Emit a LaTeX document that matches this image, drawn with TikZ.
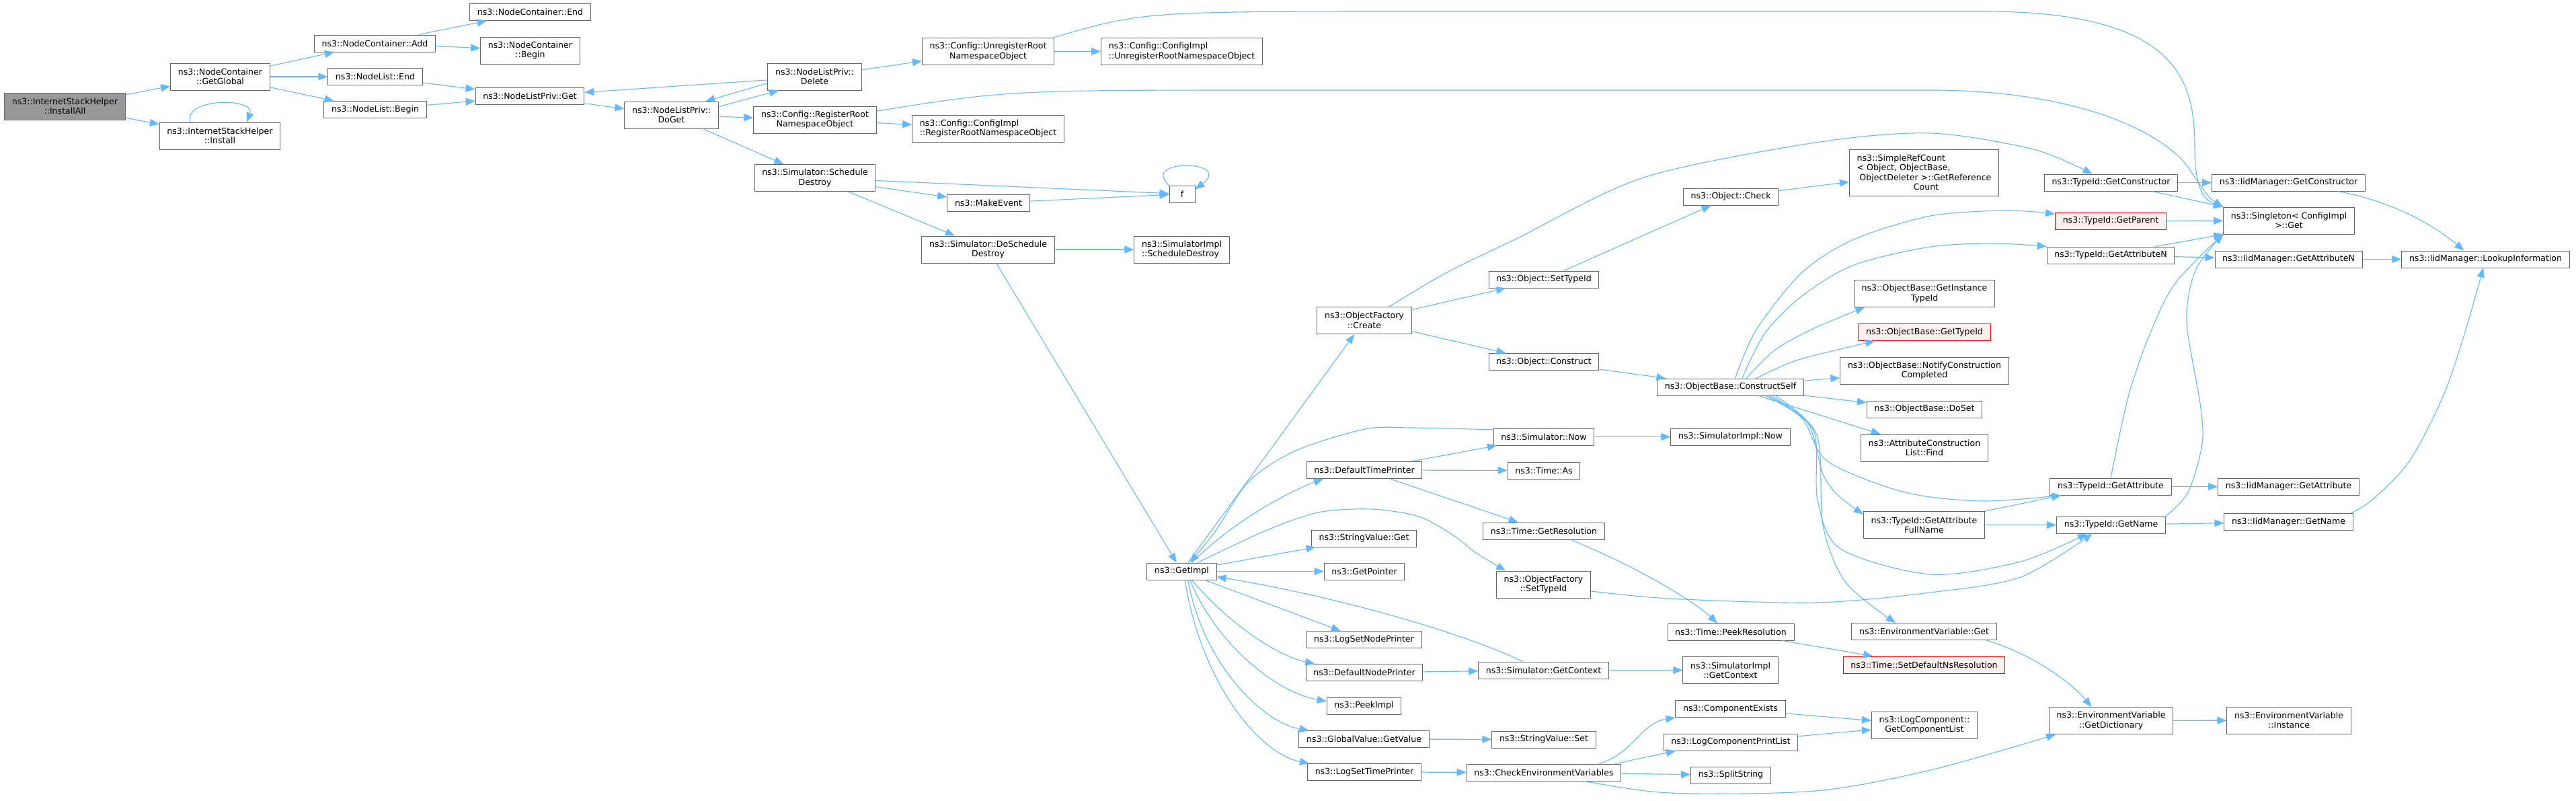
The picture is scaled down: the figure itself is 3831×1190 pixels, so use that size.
\documentclass[tikz,border=0pt]{standalone}
\usepackage{fontspec}
\setmainfont{DejaVu Sans}
\usetikzlibrary{arrows.meta}
\definecolor{edgeblue}{HTML}{63B8FF}
\definecolor{nodeline}{HTML}{666666}
\definecolor{mainfill}{HTML}{999999}
\definecolor{redfill}{HTML}{FFF0F0}
\begin{document}
\begin{tikzpicture}[x=0.5pt,y=-0.5pt,
    fn/.style={draw=nodeline,line width=0.5pt,fill=white,inner xsep=5.6pt,inner ysep=1pt,minimum height=12.5pt,align=center,font=\fontsize{6.28}{7.2}\selectfont},
    fntwo/.style={fn,minimum height=20pt},
    fnmain/.style={fntwo,fill=mainfill},
    fnred/.style={fn,draw=red,fill=redfill},
    edge/.style={draw=edgeblue,line width=0.55pt,-{Triangle[length=7pt,width=5.5pt]}}]
\useasboundingbox (0,0) rectangle (3831,1190);
\node[fnmain] (installall) at (96.5,158) {ns3::InternetStackHelper\\::InstallAll};
\node[fntwo] (getglobal) at (327.5,114) {ns3::NodeContainer\\::GetGlobal};
\node[fntwo] (install) at (327,202) {ns3::InternetStackHelper\\::Install};
\node[fn] (ncadd) at (557.5,64.5) {ns3::NodeContainer::Add};
\node[fn] (nlend) at (558,114) {ns3::NodeList::End};
\node[fn] (nlbegin) at (558,163) {ns3::NodeList::Begin};
\node[fn] (ncend) at (788.5,18) {ns3::NodeContainer::End};
\node[fntwo] (ncbegin) at (788.5,75) {ns3::NodeContainer\\::Begin};
\node[fn] (nlpget) at (788,143) {ns3::NodeListPriv::Get};
\node[fntwo] (doget) at (998.5,171) {ns3::NodeListPriv::\\DoGet};
\node[fntwo] (nlpdelete) at (1211.5,114) {ns3::NodeListPriv::\\Delete};
\node[fntwo] (unreg) at (1469.5,76.5) {ns3::Config::UnregisterRoot\\NamespaceObject};
\node[fntwo,align=left] (cfgunreg) at (1757.5,76.5) {ns3::Config::ConfigImpl\\::UnregisterRootNamespaceObject};
\node[fntwo] (reg) at (1212,178) {ns3::Config::RegisterRoot\\NamespaceObject};
\node[fntwo,align=left] (cfgreg) at (1469.5,191) {ns3::Config::ConfigImpl\\::RegisterRootNamespaceObject};
\node[fntwo] (schedd) at (1212,264.5) {ns3::Simulator::Schedule\\Destroy};
\node[fn] (makeevent) at (1470,302) {ns3::MakeEvent};
\node[fn,minimum width=19pt] (f) at (1758,288.5) {f};
\node[fntwo] (doschedd) at (1469.5,371) {ns3::Simulator::DoSchedule\\Destroy};
\node[fntwo,align=left] (simschedd) at (1757.5,371) {ns3::SimulatorImpl\\::ScheduleDestroy};
\node[fntwo] (create) at (2029,476.5) {ns3::ObjectFactory\\::Create};
\node[fn] (getimpl) at (1757.5,849.5) {ns3::GetImpl};
\node[fn] (deftime) at (2029,699) {ns3::DefaultTimePrinter};
\node[fn] (svget) at (2028.5,800.5) {ns3::StringValue::Get};
\node[fn] (getpointer) at (2029,849.5) {ns3::GetPointer};
\node[fn] (logsetnode) at (2028.5,951) {ns3::LogSetNodePrinter};
\node[fn] (defnode) at (2029,1000) {ns3::DefaultNodePrinter};
\node[fn] (peekimpl) at (2028.5,1049.5) {ns3::PeekImpl};
\node[fn] (gvgetvalue) at (2028.5,1099) {ns3::GlobalValue::GetValue};
\node[fn] (logsettime) at (2029,1148) {ns3::LogSetTimePrinter};
\node[fn] (objcheck) at (2574,292.5) {ns3::Object::Check};
\node[fn] (objsettypeid) at (2296,415.5) {ns3::Object::SetTypeId};
\node[fn] (objconstruct) at (2296,538) {ns3::Object::Construct};
\node[fn] (constructself) at (2573.5,575.5) {ns3::ObjectBase::ConstructSelf};
\node[fn] (simnow) at (2296,649.5) {ns3::Simulator::Now};
\node[fn] (simimplnow) at (2573.5,649.5) {ns3::SimulatorImpl::Now};
\node[fn] (timeas) at (2296,699.5) {ns3::Time::As};
\node[fn] (getres) at (2296,789.5) {ns3::Time::GetResolution};
\node[fntwo] (ofsettypeid) at (2295.5,869) {ns3::ObjectFactory\\::SetTypeId};
\node[fn] (peekres) at (2574,939.5) {ns3::Time::PeekResolution};
\node[fn] (simgetctx) at (2295.5,996.5) {ns3::Simulator::GetContext};
\node[fntwo] (simimplctx) at (2573.5,996.5) {ns3::SimulatorImpl\\::GetContext};
\node[fn] (compexists) at (2573.5,1054) {ns3::ComponentExists};
\node[fn] (logcompprint) at (2574,1103.5) {ns3::LogComponentPrintList};
\node[fn] (svset) at (2296,1099.5) {ns3::StringValue::Set};
\node[fn] (checkenv) at (2296,1148.5) {ns3::CheckEnvironmentVariables};
\node[fn] (splitstring) at (2574,1152.5) {ns3::SplitString};
\node[fn,align=left,minimum height=34.5pt] (simplerefcount) at (2861.5,256.5) {ns3::SimpleRefCount\\< Object, ObjectBase,\\\hspace*{0.3em}ObjectDeleter >::GetReference\\\hspace*{6.7em}Count};
\node[fn] (getconstructor) at (3139.5,271.5) {ns3::TypeId::GetConstructor};
\node[fnred] (getparent) at (3139,328.5) {ns3::TypeId::GetParent};
\node[fn] (getattributen) at (3139,379.5) {ns3::TypeId::GetAttributeN};
\node[fntwo] (gitid) at (2862,436.5) {ns3::ObjectBase::GetInstance\\TypeId};
\node[fnred] (obgettypeid) at (2862,494) {ns3::ObjectBase::GetTypeId};
\node[fntwo] (notifyconstr) at (2862,551) {ns3::ObjectBase::NotifyConstruction\\Completed};
\node[fn] (doset) at (2862,608.5) {ns3::ObjectBase::DoSet};
\node[fntwo] (attrfind) at (2862,666) {ns3::AttributeConstruction\\List::Find};
\node[fn] (getattribute) at (3139,723.5) {ns3::TypeId::GetAttribute};
\node[fntwo] (getattrfull) at (2861.5,780.5) {ns3::TypeId::GetAttribute\\FullName};
\node[fn] (getname) at (3139.5,780.5) {ns3::TypeId::GetName};
\node[fn] (envget) at (2861.5,939) {ns3::EnvironmentVariable::Get};
\node[fnred] (setdefns) at (2861.5,988.5) {ns3::Time::SetDefaultNsResolution};
\node[fntwo] (getcomplist) at (2862,1078) {ns3::LogComponent::\\GetComponentList};
\node[fntwo] (getdict) at (3139.5,1071.5) {ns3::EnvironmentVariable\\::GetDictionary};
\node[fn] (iidgetconstr) at (3403.5,271.5) {ns3::IidManager::GetConstructor};
\node[fntwo] (singleton) at (3404,328) {ns3::Singleton< ConfigImpl\\>::Get};
\node[fn] (iidgetattrn) at (3403.5,385.5) {ns3::IidManager::GetAttributeN};
\node[fn] (lookup) at (3696.5,385.5) {ns3::IidManager::LookupInformation};
\node[fn] (iidgetattr) at (3403.5,723.5) {ns3::IidManager::GetAttribute};
\node[fn] (iidgetname) at (3403.5,776) {ns3::IidManager::GetName};
\node[fntwo] (instance) at (3404,1071) {ns3::EnvironmentVariable\\::Instance};
\foreach \a/\b in {installall/getglobal, installall/install, getglobal/ncadd, getglobal/nlend, getglobal/nlbegin,
    ncadd/ncend, ncadd/ncbegin, nlend/nlpget, nlbegin/nlpget, nlpget/doget, nlpdelete/unreg, unreg/cfgunreg,
    doget/reg, reg/cfgreg, doget/schedd, schedd/makeevent, schedd/f, makeevent/f, schedd/doschedd,
    doschedd/simschedd, doschedd/getimpl, getimpl/create, create/objsettypeid, create/objconstruct,
    objsettypeid/objcheck, objcheck/simplerefcount, objconstruct/constructself, constructself/notifyconstr,
    constructself/doset, constructself/attrfind, getimpl/svget, getimpl/getpointer, getimpl/logsetnode,
    deftime/simnow, deftime/timeas, deftime/getres, simnow/simimplnow, defnode/simgetctx, simgetctx/simimplctx,
    gvgetvalue/svset, logsettime/checkenv, checkenv/splitstring, compexists/getcomplist, logcompprint/getcomplist,
    peekres/setdefns, getparent/singleton, getattributen/iidgetattrn, iidgetattrn/lookup, getattribute/iidgetattr,
    getname/iidgetname, getdict/instance, getconstructor/iidgetconstr, getattrfull/getname}
  \draw[edge] (\a) -- (\b);
\draw[edge] (nlpdelete.184) -- (nlpget.4);
\draw[edge] (nlpdelete.188) -- (doget.22);
\draw[edge] (doget.10) -- (nlpdelete.201);
\draw[edge] (getconstructor.-12) -- (singleton.north west);
\draw[edge] (getattributen.11) -- (singleton.south west);
\draw[edge] (getattrfull.north east) -- (getattribute.190);
\draw[edge] (checkenv.7) -- (logcompprint.189);
\draw[edge] (install.155) .. controls (272,145) and (380,145) .. (install.27);
\draw[edge] (f.north west) .. controls (1695,235) and (1835,238) .. (f.20);
\draw[edge] (unreg.12) .. controls (1700,17) .. (2100,17) -- (2950,17) .. controls (3240,17) and (3264,120) .. (3264,220) .. controls (3264,285) and (3280,298) .. (singleton.north west);
\draw[edge] (reg.8) .. controls (1500,134) .. (1900,134) -- (2880,134) .. controls (3100,136) and (3220,200) .. (3255,250) .. controls (3275,280) and (3285,295) .. (singleton.north west);
\draw[edge] plot[smooth] coordinates {(create.29) (2150,406) (2253,356) (2444,264) (2700,212) (2871,198) (3024,222) (getconstructor.155)};
\draw[edge] plot[smooth] coordinates {(constructself.62) (2612,490) (2680,405) (2757,356) (2871,321) (2986,313) (getparent.173)};
\draw[edge] plot[smooth] coordinates {(constructself.37) (2625,495) (2680,440) (2757,394) (2871,367) (2967,362) (getattributen.north west)};
\draw[edge] plot[smooth] coordinates {(constructself.29) (2640,520) (2700,487) (gitid.193)};
\draw[edge] plot[smooth] coordinates {(constructself.19) (2660,540) (2700,528) (obgettypeid.190)};
\draw[edge] plot[smooth] coordinates {(constructself.-14) (2680,622) (2718,686) (2833,732) (2948,745) (getattribute.190)};
\draw[edge] plot[smooth] coordinates {(constructself.-13) (2688,628) (2711,705) (2735,738) (getattrfull.170)};
\draw[edge] plot[smooth] coordinates {(constructself.-12) (2697,640) (2703,743) (2737,816) (2871,854) (3005,835) (getname.200)};
\draw[edge] plot[smooth] coordinates {(constructself.-11) (2702,647) (2711,781) (2745,866) (envget.163)};
\draw[edge] plot[smooth] coordinates {(ofsettypeid.-8) (2483,890) (2700,896) (2871,881) (3005,858) (getname.205)};
\draw[edge] plot[smooth] coordinates {(getname.9) (3254,732) (3275,660) (3272,600) (3252,478) (3265,402) (singleton.south west)};
\draw[edge] plot[smooth] coordinates {(getattribute.north) (3165,590) (3197,497) (3235,421) (singleton.south west)};
\draw[edge] (iidgetconstr.-10) .. controls (3560,300) and (3620,335) .. (lookup.158);
\draw[edge] plot[smooth] coordinates {(iidgetname.8) (3528,743) (3583,686) (3633,590) (3665,497) (lookup.255)};
\draw[edge] (envget.-8) .. controls (3030,975) and (3085,1020) .. (getdict.145);
\draw[edge] plot[smooth] coordinates {(checkenv.-12) (2483,1179) (2700,1176) (2871,1145) (getdict.194)};
\draw[edge] (checkenv.9) .. controls (2430,1120) and (2440,1075) .. (compexists.189);
\draw[edge] (getres.-18) .. controls (2440,845) and (2520,895) .. (peekres.147);
\draw[edge] plot[smooth] coordinates {(simnow.172) (2100,636) (2030,638) (1927,670) (1857,716) (1808,789) (getimpl.47)};
\draw[edge] (getimpl.41) .. controls (1840,770) and (1920,730) .. (deftime.192);
\draw[edge] plot[smooth] coordinates {(getimpl.29) (1880,790) (1960,762) (2040,757) (2110,768) (2160,795) (2195,822) (ofsettypeid.160)};
\draw[edge] (getimpl.-41) .. controls (1830,930) and (1900,975) .. (defnode.170);
\draw[edge] (getimpl.-47) .. controls (1810,960) and (1900,1030) .. (peekimpl.173);
\draw[edge] (getimpl.-55) .. controls (1790,990) and (1880,1075) .. (gvgetvalue.171);
\draw[edge] (getimpl.-70) .. controls (1785,1010) and (1870,1120) .. (logsettime.171);
\draw[edge] (simgetctx.157) .. controls (2150,930) and (1950,880) .. (getimpl.-9);
\end{tikzpicture}
\end{document}
